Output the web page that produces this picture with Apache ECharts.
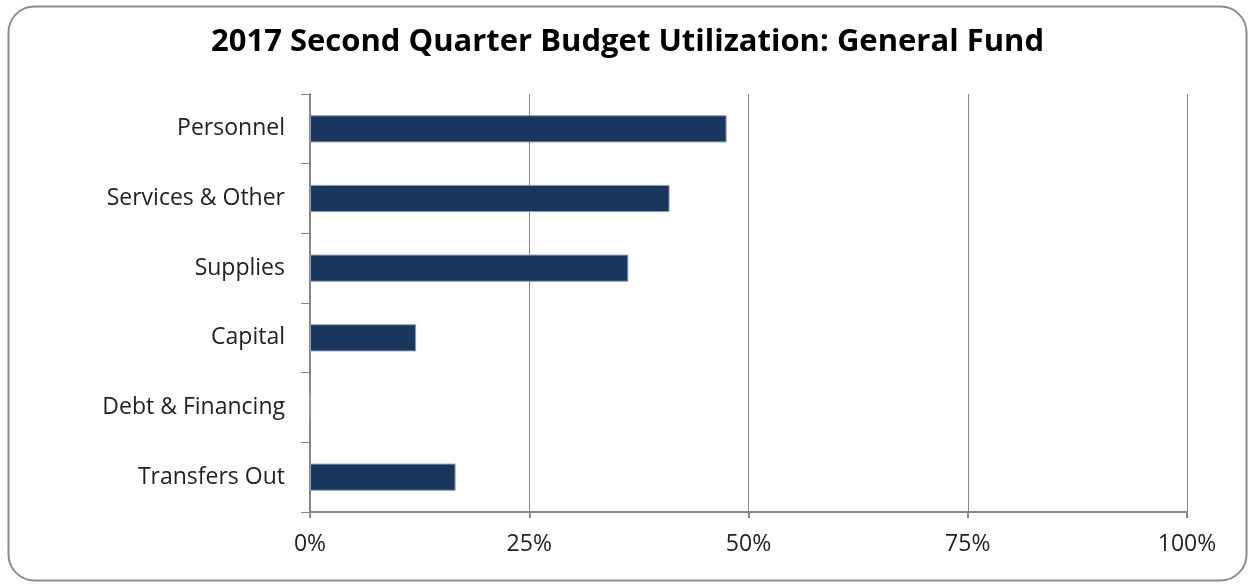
<!DOCTYPE html>
<html>
<head>
<meta charset="utf-8">
<style>
  html, body { margin: 0; padding: 0; background: #fff; }
  #chart { width: 1255px; height: 586px; }
</style>
<script src="https://cdn.jsdelivr.net/npm/echarts@6/dist/echarts.min.js"></script>
</head>
<body>
<div id="chart"></div>
<script>
// categories, top to bottom
var categories = ["Personnel", "Services & Other", "Supplies", "Capital", "Debt & Financing", "Transfers Out"];
// share of budget used (fraction of 1)
var utilization = [0.475, 0.41, 0.363, 0.121, 0, 0.166];

var chart = echarts.init(document.getElementById("chart"));

var option = {
  backgroundColor: "#fff",
  animation: false,
  title: {
    text: "2017 Second Quarter Budget Utilization: General Fund",
    left: "center",
    top: 22,
    textStyle: {
      fontFamily: "Open Sans",
      fontWeight: "bold",
      fontSize: 31,
      color: "#000"
    }
  },
  graphic: [
    {
      type: "rect",
      shape: { x: 8.5, y: 6.5, width: 1238, height: 574, r: 26 },
      style: { fill: "none", stroke: "#8c8c8c", lineWidth: 2 },
      silent: true
    }
  ],
  grid: {
    left: 310,
    right: 68,
    top: 94,
    bottom: 74
  },
  xAxis: {
    type: "value",
    min: 0,
    max: 1,
    interval: 0.25,
    axisLine: { show: true, lineStyle: { color: "#868686", width: 2 } },
    axisTick: { show: true, length: 6, lineStyle: { color: "#868686", width: 2 } },
    splitLine: { show: true, lineStyle: { color: "#868686", width: 1 } },
    axisLabel: {
      margin: 21,
      fontFamily: "Open Sans",
      fontSize: 23,
      color: "#222",
      formatter: function (v) {
        return Math.round(v * 100) + "%";
      }
    }
  },
  yAxis: {
    type: "category",
    inverse: true,
    data: categories,
    axisLine: { show: true, lineStyle: { color: "#868686", width: 2 } },
    axisTick: { show: true, length: 9, lineStyle: { color: "#868686", width: 1 } },
    axisLabel: {
      margin: 25,
      fontFamily: "Open Sans",
      fontSize: 23,
      color: "#222"
    }
  },
  series: [
    {
      type: "bar",
      data: utilization,
      barCategoryGap: "61%",
      itemStyle: {
        color: "#19375e",
        borderColor: "#8a9cb6",
        borderWidth: 1
      }
    }
  ]
};

chart.setOption(option);
</script>
</body>
</html>
